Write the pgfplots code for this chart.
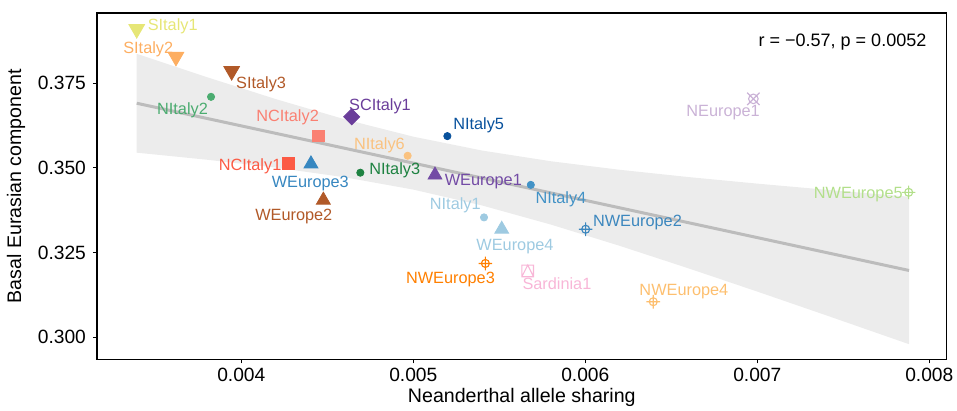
\documentclass[border=0pt]{standalone}
\usepackage{fontspec}
\setmainfont{Liberation Sans}
\usepackage{pgfplots}
\pgfplotsset{compat=1.18}

% Colours of the populations
\definecolor{cSI1}{RGB}{230,230,118}
\definecolor{cSI2}{RGB}{253,174,97}
\definecolor{cBrown}{RGB}{177,89,40}
\definecolor{cNI2}{RGB}{75,172,112}
\definecolor{cSCI1}{RGB}{106,61,154}
\definecolor{cNCI2}{RGB}{250,128,114}
\definecolor{cNI5}{RGB}{8,81,156}
\definecolor{cNI6}{RGB}{250,194,128}
\definecolor{cNCI1}{RGB}{252,90,68}
\definecolor{cWE3}{RGB}{55,135,192}
\definecolor{cNI3}{RGB}{30,130,65}
\definecolor{cWE1}{RGB}{115,75,165}
\definecolor{cNI4}{RGB}{66,146,198}
\definecolor{cLBlue}{RGB}{158,202,225}
\definecolor{cNWE2}{RGB}{60,135,190}
\definecolor{cNWE3}{RGB}{255,127,0}
\definecolor{cSar}{RGB}{248,182,215}
\definecolor{cNWE4}{RGB}{253,191,111}
\definecolor{cNE1}{RGB}{202,178,214}
\definecolor{cNWE5}{RGB}{178,223,138}
\definecolor{cFit}{RGB}{188,188,188}
\definecolor{cBand}{RGB}{207,207,207}

% Open marks: circle with a plus, circle with a cross, square with a triangle
\pgfdeclareplotmark{oplus}{%
  \pgfpathcircle{\pgfpointorigin}{\pgfplotmarksize}%
  \pgfpathmoveto{\pgfpoint{-1.7\pgfplotmarksize}{0pt}}%
  \pgfpathlineto{\pgfpoint{1.7\pgfplotmarksize}{0pt}}%
  \pgfpathmoveto{\pgfpoint{0pt}{-1.7\pgfplotmarksize}}%
  \pgfpathlineto{\pgfpoint{0pt}{1.7\pgfplotmarksize}}%
  \pgfusepathqstroke}
\pgfdeclareplotmark{otimes}{%
  \pgfpathcircle{\pgfpointorigin}{\pgfplotmarksize}%
  \pgfpathmoveto{\pgfpoint{-1.3\pgfplotmarksize}{-1.3\pgfplotmarksize}}%
  \pgfpathlineto{\pgfpoint{1.3\pgfplotmarksize}{1.3\pgfplotmarksize}}%
  \pgfpathmoveto{\pgfpoint{-1.3\pgfplotmarksize}{1.3\pgfplotmarksize}}%
  \pgfpathlineto{\pgfpoint{1.3\pgfplotmarksize}{-1.3\pgfplotmarksize}}%
  \pgfusepathqstroke}
\pgfdeclareplotmark{sqtri}{%
  \pgfpathrectangle{\pgfpoint{-\pgfplotmarksize}{-\pgfplotmarksize}}{\pgfpoint{2\pgfplotmarksize}{2\pgfplotmarksize}}%
  \pgfpathmoveto{\pgfpoint{-\pgfplotmarksize}{-\pgfplotmarksize}}%
  \pgfpathlineto{\pgfpoint{0pt}{\pgfplotmarksize}}%
  \pgfpathlineto{\pgfpoint{\pgfplotmarksize}{-\pgfplotmarksize}}%
  \pgfusepathqstroke}

\tikzset{
  lbl/.style={font=\fontsize{8.15}{9.8}\selectfont, inner sep=0pt, anchor=center,
              text height=5.84pt, text depth=0pt},
}

\begin{document}
\begin{tikzpicture}
\begin{axis}[
  scale only axis,
  width=424.85pt, height=173.15pt,
  xmin=0.003161, xmax=0.008101,
  ymin=0.2935, ymax=0.39576,
  clip=false,
  scaled x ticks=false, scaled y ticks=false,
  xtick={0.004,0.005,0.006,0.007,0.008},
  xticklabels={0.004,0.005,0.006,0.007,0.008},
  ytick={0.300,0.325,0.350,0.375},
  yticklabels={0.300,0.325,0.350,0.375},
  tick align=outside, tick pos=left,
  major tick length=2pt,
  tick style={black, line width=0.5pt},
  axis line style={black, line width=0.6pt},
  every tick label/.append style={font=\fontsize{9.6}{11}\selectfont, text=black},
  x tick label style={yshift=1.3pt},
  xlabel={Neanderthal allele sharing},
  ylabel={Basal Eurasian component},
  every axis x label/.style={at={(axis description cs:0.5,-0.1089)}, anchor=center,
     font=\fontsize{9.8}{11}\selectfont},
  every axis y label/.style={at={(axis description cs:-0.0953,0.5)}, anchor=center,
     rotate=90, font=\fontsize{9.8}{11}\selectfont},
]
\coordinate (bbsw) at (rel axis cs:0,0);
\coordinate (bbne) at (rel axis cs:1,1);

% ---- populations ----
% South Italy: filled down-pointing triangles
\addplot[only marks, mark=triangle*, mark size=4.5pt, mark options={rotate=180}, color=cSI1]
  coordinates {(0.003392,0.3910)};
\addplot[only marks, mark=triangle*, mark size=4.5pt, mark options={rotate=180}, color=cSI2]
  coordinates {(0.003620,0.3828)};
\addplot[only marks, mark=triangle*, mark size=4.5pt, mark options={rotate=180}, color=cBrown]
  coordinates {(0.003944,0.3786)};
% North Italy: small filled circles
\addplot[only marks, mark=*, mark size=1.8pt, color=cNI2] coordinates {(0.003824,0.3710)};
\addplot[only marks, mark=*, mark size=1.8pt, color=cNI5] coordinates {(0.005198,0.3594)};
\addplot[only marks, mark=*, mark size=1.8pt, color=cNI6] coordinates {(0.004967,0.3536)};
\addplot[only marks, mark=*, mark size=1.8pt, color=cNI3] coordinates {(0.004692,0.3486)};
\addplot[only marks, mark=*, mark size=1.8pt, color=cNI4] coordinates {(0.005683,0.3450)};
\addplot[only marks, mark=*, mark size=1.8pt, color=cLBlue] coordinates {(0.005411,0.3354)};
% South-central Italy: diamond
\addplot[only marks, mark=square*, mark size=2.83pt, mark options={rotate=45}, color=cSCI1]
  coordinates {(0.004642,0.3651)};
% North-central Italy: squares
\addplot[only marks, mark=square*, mark size=2.9pt, color=cNCI2] coordinates {(0.004448,0.3595)};
\addplot[only marks, mark=square*, mark size=2.9pt, color=cNCI1] coordinates {(0.004273,0.3514)};
% West Europe: filled triangles
\addplot[only marks, mark=triangle*, mark size=4pt, color=cWE3] coordinates {(0.004405,0.3512)};
\addplot[only marks, mark=triangle*, mark size=4pt, color=cWE1] coordinates {(0.005126,0.3479)};
\addplot[only marks, mark=triangle*, mark size=4pt, color=cBrown] coordinates {(0.004477,0.3405)};
\addplot[only marks, mark=triangle*, mark size=4pt, color=cLBlue] coordinates {(0.005514,0.3319)};
% North-west Europe: circles with a plus
\addplot[only marks, mark=oplus, mark size=2pt, mark options={line width=0.55pt}, color=cNWE2]
  coordinates {(0.006002,0.3319)};
\addplot[only marks, mark=oplus, mark size=2pt, mark options={line width=0.55pt}, color=cNWE3]
  coordinates {(0.005419,0.3218)};
\addplot[only marks, mark=oplus, mark size=2pt, mark options={line width=0.55pt}, color=cNWE4]
  coordinates {(0.006395,0.3105)};
\addplot[only marks, mark=oplus, mark size=2pt, mark options={line width=0.55pt}, color=cNWE5]
  coordinates {(0.007880,0.3428)};
% North Europe: circle with a cross
\addplot[only marks, mark=otimes, mark size=2.4pt, mark options={line width=0.55pt}, color=cNE1]
  coordinates {(0.006977,0.3704)};
% Sardinia: square with a triangle
\addplot[only marks, mark=sqtri, mark size=2.9pt, mark options={line width=0.55pt}, color=cSar]
  coordinates {(0.005665,0.3196)};

% ---- linear fit with 95% confidence band ----
\addplot[draw=none, fill=cBand, fill opacity=0.4] coordinates {
  (0.003392,0.38370) (0.003800,0.37681) (0.004200,0.37034) (0.004600,0.36438)
  (0.005000,0.35924) (0.005400,0.35514) (0.005800,0.35198) (0.006200,0.34946)
  (0.006600,0.34731) (0.007000,0.34537) (0.007400,0.34357) (0.007882,0.34150)
  (0.007882,0.29796) (0.007400,0.30649) (0.007000,0.31349) (0.006600,0.32035)
  (0.006200,0.32700) (0.005800,0.33328) (0.005400,0.33892) (0.005000,0.34361)
  (0.004600,0.34726) (0.004200,0.35010) (0.003800,0.35243) (0.003392,0.35451)
} -- cycle;
\addplot[cFit, line width=1.5pt] coordinates {(0.003392,0.36911) (0.007882,0.31973)};

% ---- population labels ----
\node[lbl, text=cSI1]   at (axis cs:0.003601,0.39222) {SItaly1};
\node[lbl, text=cSI2]   at (axis cs:0.003459,0.38551) {SItaly2};
\node[lbl, text=cBrown] at (axis cs:0.004115,0.37529) {SItaly3};
\node[lbl, text=cNI2]   at (axis cs:0.003658,0.36762) {NItaly2};
\node[lbl, text=cNCI2]  at (axis cs:0.004269,0.36549) {NCItaly2};
\node[lbl, text=cSCI1]  at (axis cs:0.004806,0.36859) {SCItaly1};
\node[lbl, text=cNI5]   at (axis cs:0.005380,0.36319) {NItaly5};
\node[lbl, text=cNI6]   at (axis cs:0.004803,0.35728) {NItaly6};
\node[lbl, text=cNCI1]  at (axis cs:0.004051,0.35088) {NCItaly1};
\node[lbl, text=cNI3]   at (axis cs:0.004892,0.34990) {NItaly3};
\node[lbl, text=cWE3]   at (axis cs:0.004401,0.34594) {WEurope3};
\node[lbl, text=cWE1]   at (axis cs:0.005407,0.34665) {WEurope1};
\node[lbl, text=cNI4]   at (axis cs:0.005858,0.34134) {NItaly4};
\node[lbl, text=cBrown] at (axis cs:0.004305,0.33632) {WEurope2};
\node[lbl, text=cLBlue] at (axis cs:0.005244,0.33936) {NItaly1};
\node[lbl, text=cNWE2]  at (axis cs:0.006303,0.33434) {NWEurope2};
\node[lbl, text=cLBlue] at (axis cs:0.005591,0.32746) {WEurope4};
\node[lbl, text=cNWE3]  at (axis cs:0.005216,0.31772) {NWEurope3};
\node[lbl, text=cSar]   at (axis cs:0.005835,0.31594) {Sardinia1};
\node[lbl, text=cNWE4]  at (axis cs:0.006573,0.31397) {NWEurope4};
\node[lbl, text=cNE1]   at (axis cs:0.006801,0.36691) {NEurope1};
\node[lbl, text=cNWE5]  at (axis cs:0.007587,0.34281) {NWEurope5};

% correlation annotation
\node[anchor=base east, inner sep=0pt, font=\fontsize{9}{11}\selectfont,
      xshift=-10pt, yshift=-16.85pt] at (rel axis cs:1,1) {r = −0.57, p = 0.0052};
\end{axis}
\pgfresetboundingbox
\path[use as bounding box] ([shift={(-48.5pt,-25.85pt)}]bbsw) rectangle ([shift={(5.15pt,6.5pt)}]bbne);
\end{tikzpicture}
\end{document}
